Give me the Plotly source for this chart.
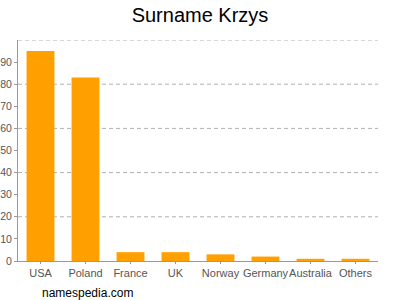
import plotly.graph_objects as go

countries = ["USA", "Poland", "France", "UK", "Norway", "Germany", "Australia", "Others"]
values = [95, 83, 4, 4, 3, 2, 1, 1]
y_ticks = [0, 10, 20, 30, 40, 50, 60, 70, 80, 90]

fig = go.Figure(go.Bar(x=countries, y=values, marker_color="#ffa000", marker_line_width=0))

fig.update_layout(
    width=400, height=300,
    margin=dict(l=18, r=22, t=40, b=39),
    paper_bgcolor="white", plot_bgcolor="white",
    bargap=0.38,
    showlegend=False,
    font=dict(family="Liberation Sans, Arial, sans-serif", color="#555555", size=11),
    title=dict(text="Surname Krzys", x=0.5, xanchor="center", y=0.95, yanchor="middle",
               font=dict(size=20, color="black")),
)
fig.update_xaxes(showline=True, linecolor="#999999", linewidth=1, ticks="outside",
                 ticklen=2, tickcolor="#999999", showgrid=False, tickangle=0, automargin=False,
                 tickfont=dict(size=11, color="#555555"))
fig.update_yaxes(range=[0, 100], tickvals=y_ticks, showline=True, linecolor="#999999", linewidth=1,
                 ticks="outside", ticklen=3, tickcolor="#999999", showgrid=False, automargin=False,
                 zeroline=False, tickfont=dict(size=10.5, color="#555555"))
for g in [20, 40, 60, 80, 100]:
    fig.add_shape(type="line", xref="paper", yref="y", x0=0, x1=1, y0=g, y1=g,
                  line=dict(color="#b0b0b0", width=1, dash="4px,3px"), layer="below")
fig.add_annotation(text="namespedia.com", xref="paper", yref="paper", x=0.061, y=-0.104,
                   xanchor="left", yanchor="top", showarrow=False,
                   font=dict(size=12, color="black"))
fig.write_html("out.html")
